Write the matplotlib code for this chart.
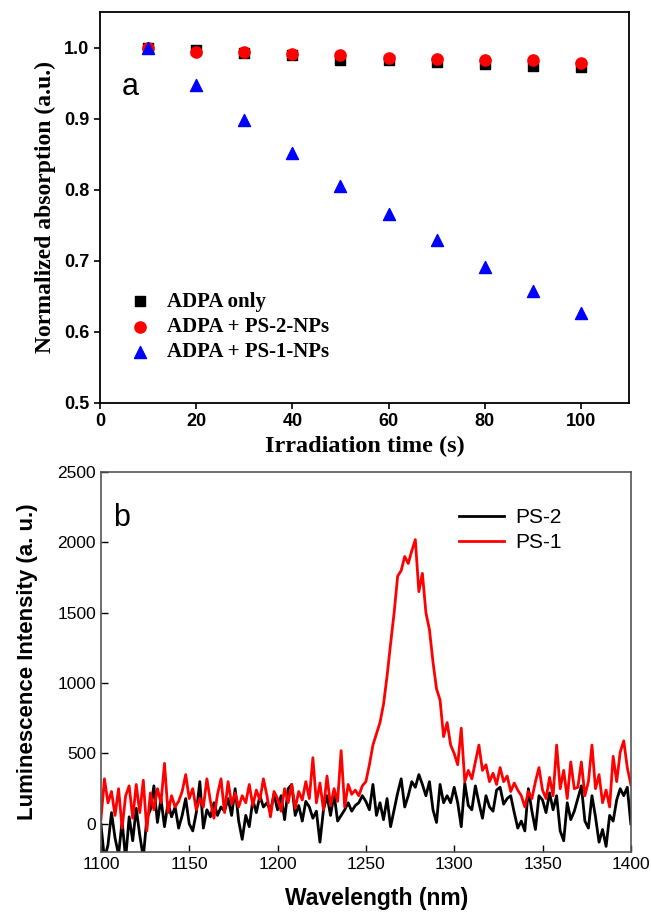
import matplotlib
matplotlib.use("Agg")
import matplotlib.pyplot as plt
import numpy as np

# panel a: normalized absorption vs irradiation time
tiempo = [10, 20, 30, 40, 50, 60, 70, 80, 90, 100]
adpa_only = [1.000, 0.997, 0.992, 0.990, 0.983, 0.982, 0.980, 0.977, 0.974, 0.972]
adpa_ps2 = [1.000, 0.993, 0.993, 0.991, 0.989, 0.985, 0.984, 0.983, 0.982, 0.978]
adpa_ps1 = [1.000, 0.947, 0.898, 0.851, 0.805, 0.766, 0.729, 0.691, 0.657, 0.627]

# panel b: luminescence spectra, 1100-1400 nm every 2 nm
wavelength = np.arange(1100, 1401, 2)
ps1 = [
    30, 320, 150, 230, 60, 250, -30, 200, 270, 40, 280, 80, 310, -50, 220, 100,
    250, 150, 430, 80, 200, 120, 160, 230, 350, 180,
    250, 100, 180, 120, 320, 160, 40, 210, 320, 80, 300, 140, 220, 120, 200, 150,
    280, 130, 240, 170, 320, 200, 50, 230, 180,
    90, 250, 150, 280, 110, 230, 170, 300, 180, 470, 150, 290, 100, 340, 130, 250,
    160, 520, 120, 280, 210, 240, 200, 270, 300,
    420, 560, 640, 720, 850, 1050, 1280, 1500, 1760, 1800, 1900, 1850, 1940, 2020,
    1650, 1780, 1500, 1380, 1150, 960, 880, 620, 720, 560, 500,
    420, 680, 300, 380, 320, 440, 560, 380, 420, 300, 360, 280, 400, 300, 340,
    230, 290, 240, 200, 120, 230, 180, 300, 400, 240,
    180, 330, 200, 560, 250, 380, 180, 440, 250, 260, 440, 200, 300, 560, 250,
    350, 150, 240, 120, 480, 300, 510, 590, 400, 280,
]
ps2 = [
    0, -250, -150, 80, -100, -220, 20, -250, 50, -120, 110, -80, -240, 40, 100,
    270, 10, 180, -20, 150, 50, 120, -30, 60, 180, 0,
    -50, 80, 300, -30, 100, 50, 150, 60, 120, 90, 180, 60, 250, 20, -110, 60,
    -20, 170, 80, 200, 120, 150, 90, 210, 100,
    200, 30, 250, 280, 60, 130, 20, 160, 120, 40, 90, -130, 100, 200, 60, 210,
    20, 60, 100, 150, 90, 130, 150, 200, 160,
    100, 280, 60, 150, 30, 180, -20, 100, 220, 320, 120, 200, 300, 260, 350,
    280, 200, 300, 100, 10, 280, 150, 200, 150, 260,
    150, -20, 290, 130, 100, 270, 150, 40, 200, 120, 90, 240, 260, 140, 180,
    200, 80, -30, 20, -50, 250, 90, -40, 200, 170,
    80, 220, 100, 200, -50, -120, 150, 30, 90, 180, 270, 20, -30, 200, 50,
    -130, -40, -160, 60, 20, 170, 250, 200, 260, 0,
]

def gerar_grafico():
    fig = plt.figure(figsize=(6.51, 9.13), dpi=100)

    # ---- panel a
    ax1 = fig.add_axes([0.1536, 0.5586, 0.8126, 0.4283])
    ax1.scatter(tiempo, adpa_only, marker="s", s=55, color="black", label="ADPA only", zorder=3)
    ax1.scatter(tiempo, adpa_ps2, marker="o", s=65, color="#ff0000", label="ADPA + PS-2-NPs", zorder=4)
    ax1.scatter(tiempo, adpa_ps1, marker="^", s=75, color="#0000ff", label="ADPA + PS-1-NPs", zorder=5)
    ax1.set_xlim(0, 110)
    ax1.set_ylim(0.5, 1.05)
    ax1.set_xticks([0, 20, 40, 60, 80, 100])
    ax1.set_yticks([0.5, 0.6, 0.7, 0.8, 0.9, 1.0])
    ax1.set_yticklabels(["0.5", "0.6", "0.7", "0.8", "0.9", "1.0"])
    ax1.tick_params(direction="out", length=4, width=1.2, labelsize=13)
    for lab in ax1.get_xticklabels() + ax1.get_yticklabels():
        lab.set_fontfamily("Liberation Sans")
        lab.set_fontweight("bold")
    for sp in ax1.spines.values():
        sp.set_linewidth(1.3)
    ax1.set_xlabel("Irradiation time (s)", family="Liberation Serif", fontweight="bold",
                   fontsize=17.5, labelpad=4)
    ax1.set_ylabel("Normalized absorption (a.u.)", family="Liberation Serif", fontweight="bold",
                   fontsize=17, labelpad=6)
    ax1.text(0.042, 0.808, "a", transform=ax1.transAxes, fontsize=22,
             family="Liberation Sans", va="center", ha="left")
    ax1.legend(loc="upper left", bbox_to_anchor=(0.056, 0.284), frameon=False,
               prop={"family": "Liberation Serif", "weight": "bold", "size": 15},
               handlelength=1.0, handletextpad=0.8, labelspacing=0.25,
               borderaxespad=0, borderpad=0, scatterpoints=1)

    # ---- panel b
    ax2 = fig.add_axes([0.155, 0.0668, 0.814, 0.4162])
    ax2.plot(wavelength, ps2, color="black", lw=2.0, label="PS-2")
    ax2.plot(wavelength, ps1, color="#ff0000", lw=2.0, label="PS-1")
    ax2.set_xlim(1100, 1400)
    ax2.set_ylim(-200, 2500)
    ax2.set_xticks(range(1100, 1401, 50))
    ax2.set_yticks(range(0, 2501, 500))
    ax2.tick_params(direction="in", length=5, width=1, labelsize=12.5, colors="black")
    for lab in ax2.get_xticklabels() + ax2.get_yticklabels():
        lab.set_fontfamily("Liberation Sans")
    for sp in ax2.spines.values():
        sp.set_color("#555555")
        sp.set_linewidth(1.2)
    ax2.set_xlabel("Wavelength (nm)", family="Liberation Sans", fontweight="bold",
                   fontsize=16.5)
    ax2.xaxis.set_label_coords(0.52, -0.092)
    ax2.set_ylabel("Luminescence Intensity (a. u.)", family="Liberation Sans", fontweight="bold",
                   fontsize=16, labelpad=14)
    ax2.text(0.023, 0.88, "b", transform=ax2.transAxes, fontsize=22,
             family="Liberation Sans", va="center", ha="left")
    ax2.legend(loc="upper left", bbox_to_anchor=(0.675, 0.905), frameon=False,
               prop={"family": "Liberation Sans", "size": 15},
               handlelength=2.2, handletextpad=0.5, labelspacing=0.3,
               borderaxespad=0, borderpad=0)

    fig.savefig("out.png", dpi=100)

if __name__ == "__main__":
    gerar_grafico()
